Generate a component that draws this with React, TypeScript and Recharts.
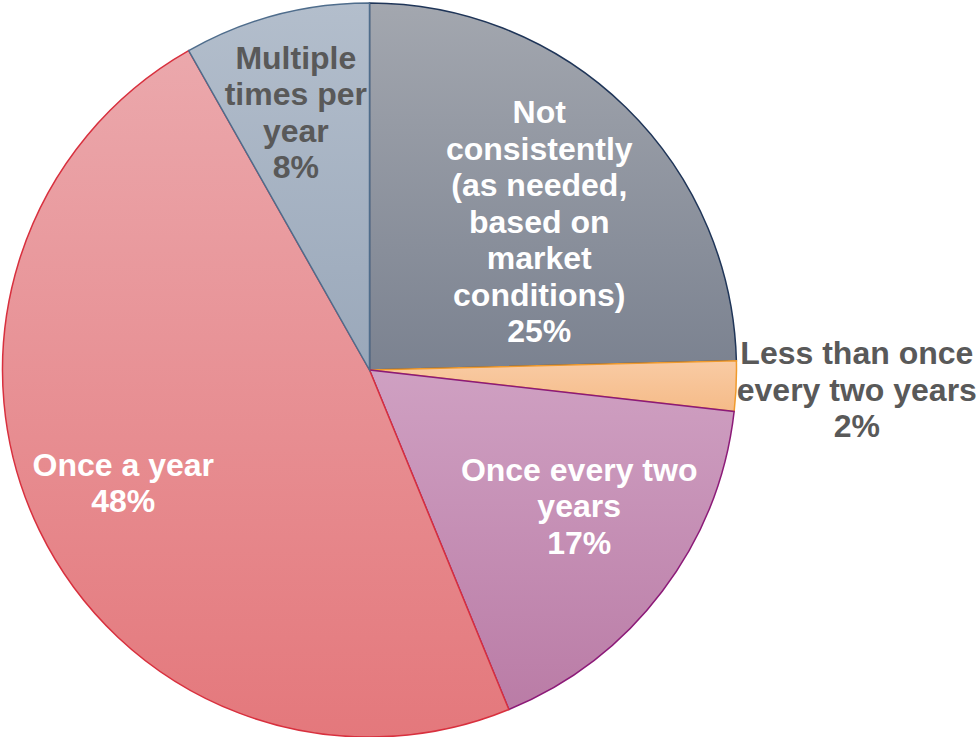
import { Cell, Pie, PieChart } from 'recharts';

const categories = [
  'Not\nconsistently\n(as needed,\nbased on\nmarket\nconditions)',
  'Less than once\nevery two years',
  'Once every two\nyears',
  'Once a year',
  'Multiple\ntimes per\nyear',
];
const shares = [24.6, 2.2, 17.0, 48.0, 8.2];

const data = categories.map((name, i) => ({ name, value: shares[i] }));

// fill gradient (top, bottom), outline, label colour
const sliceStyles = [
  { top: '#a3a7af', bottom: '#7b8290', stroke: '#1f3558', text: '#ffffff' },
  { top: '#f9cba4', bottom: '#f5bb88', stroke: '#f09a2c', text: '#595959' },
  { top: '#cfa0c2', bottom: '#ba7ca6', stroke: '#8c1a78', text: '#ffffff' },
  { top: '#eba8ac', bottom: '#e4787c', stroke: '#d8303e', text: '#ffffff' },
  { top: '#b3becc', bottom: '#9aa8ba', stroke: '#4f6d8c', text: '#595959' },
];

// label placement relative to the slice middle
const labelRadius = [0.614, 1.329, 0.681, 0.738, 0.73];
const labelAngleShift = [-4.6, 0.2, 4.1, -1.3, 1.2];

const RAD = Math.PI / 180;
const LINE_H = 36.5;

function renderLabel(props: any) {
  const { cx, cy, midAngle, outerRadius, index, value, name } = props;
  const r = outerRadius * labelRadius[index];
  const a = (midAngle + labelAngleShift[index]) * RAD;
  const x = cx + r * Math.cos(a);
  const y = cy - r * Math.sin(a);
  const lines = [...String(name).split('\n'), `${Math.round(value)}%`];
  const y0 = y - ((lines.length - 1) * LINE_H) / 2;
  return (
    <text
      x={x}
      y={y0}
      textAnchor="middle"
      dominantBaseline="central"
      fill={sliceStyles[index].text}
      fontFamily='"Liberation Sans", Arial, sans-serif'
      fontWeight={700}
      fontSize={32}
    >
      {lines.map((line, i) => (
        <tspan key={i} x={x} y={y0 + i * LINE_H}>
          {line}
        </tspan>
      ))}
    </text>
  );
}

export default function App() {
  return (
    <div style={{ position: 'absolute', left: 0, top: 0, width: 976, height: 737, background: '#fff' }}>
      <PieChart width={976} height={737} margin={{ top: 0, right: 0, bottom: 0, left: 0 }}>
        <defs>
          {sliceStyles.map((s, i) => (
            <linearGradient key={i} id={`slice${i}`} x1="0" y1="0" x2="0" y2="1">
              <stop offset="0%" stopColor={s.top} />
              <stop offset="100%" stopColor={s.bottom} />
            </linearGradient>
          ))}
        </defs>
        <Pie
          data={data}
          dataKey="value"
          nameKey="name"
          cx={369.5}
          cy={370}
          outerRadius={367}
          startAngle={90}
          endAngle={-270}
          label={renderLabel}
          labelLine={false}
          isAnimationActive={false}
        >
          {data.map((_, i) => (
            <Cell key={i} fill={`url(#slice${i})`} stroke={sliceStyles[i].stroke} strokeWidth={1.5} />
          ))}
        </Pie>
      </PieChart>
    </div>
  );
}
